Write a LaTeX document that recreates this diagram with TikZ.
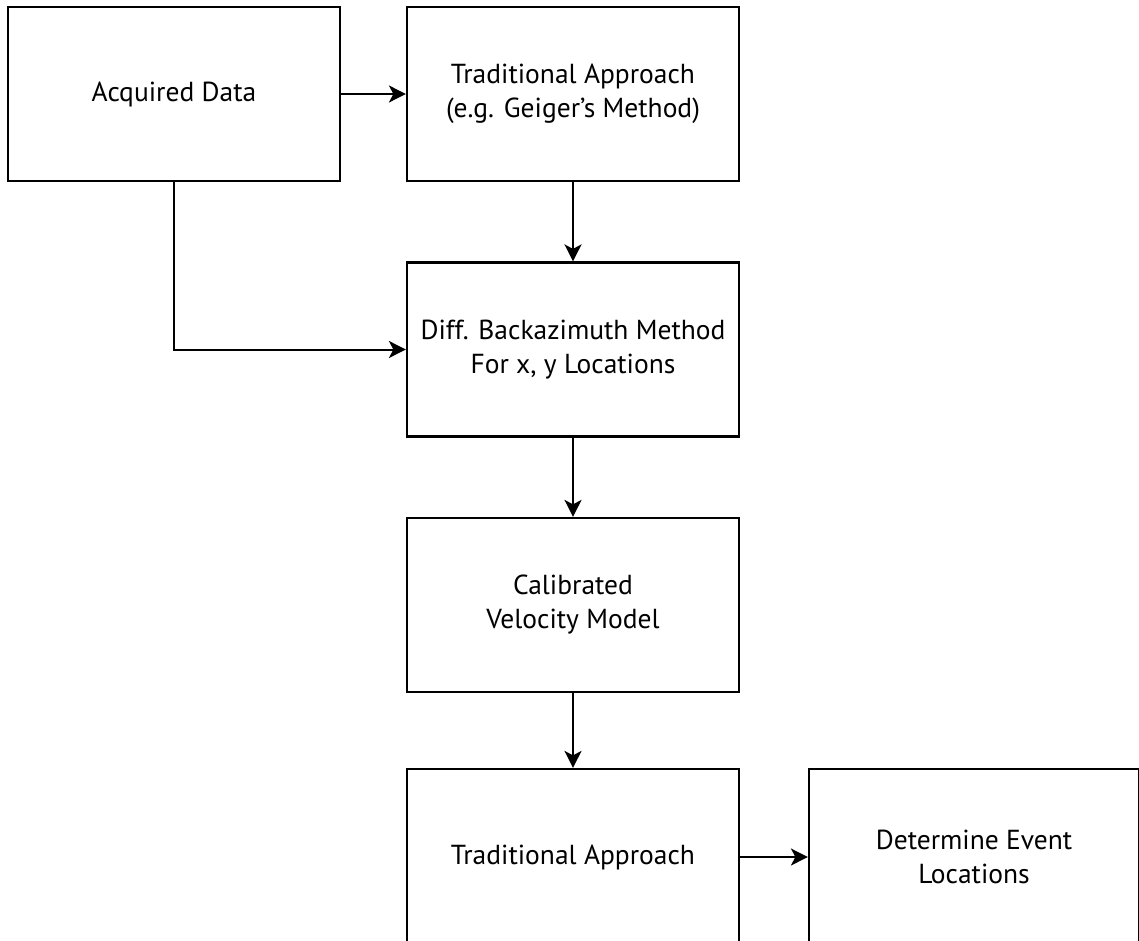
\documentclass[tikz,border=0pt]{standalone}
\usepackage{fontspec}
\setmainfont{PT Sans}
\usetikzlibrary{arrows.meta}
\begin{document}
\begin{tikzpicture}[x=1pt,y=-1pt,
  blockbox/.style={draw=black, line width=2.2pt, minimum width=332pt, minimum height=174pt,
    align=center, inner sep=0pt, font=\fontsize{27.5}{34}\selectfont},
  conn/.style={line width=2pt, draw=black, -{Stealth[length=17pt,width=17pt,inset=4.5pt]}}]
\clip (0,0) rectangle (1139,941);
\useasboundingbox (0,0) rectangle (1139,941);
\fill[white] (0,0) rectangle (1139,941);
\node[blockbox] (A) at (174,94) {Acquired Data};
\node[blockbox] (B) at (573,94) {Traditional Approach\\(e.g. Geiger’s Method)};
\node[blockbox] (C) at (573,349.5) {Diff. Backazimuth Method\\For x, y Locations};
\node[blockbox] (D) at (573,605) {Calibrated\\Velocity Model};
\node[blockbox, minimum height=176pt] (E) at (573,857) {Traditional Approach};
\node[blockbox, minimum height=176pt, minimum width=330pt] (F) at (974,857) {Determine Event\\Locations};
\draw[conn] (A) -- (B);
\draw[conn] (B) -- (C);
\draw[conn] (A.south) |- (C.west);
\draw[conn] (C) -- (D);
\draw[conn] (D) -- (E);
\draw[conn] (E) -- (F);
\end{tikzpicture}
\end{document}
